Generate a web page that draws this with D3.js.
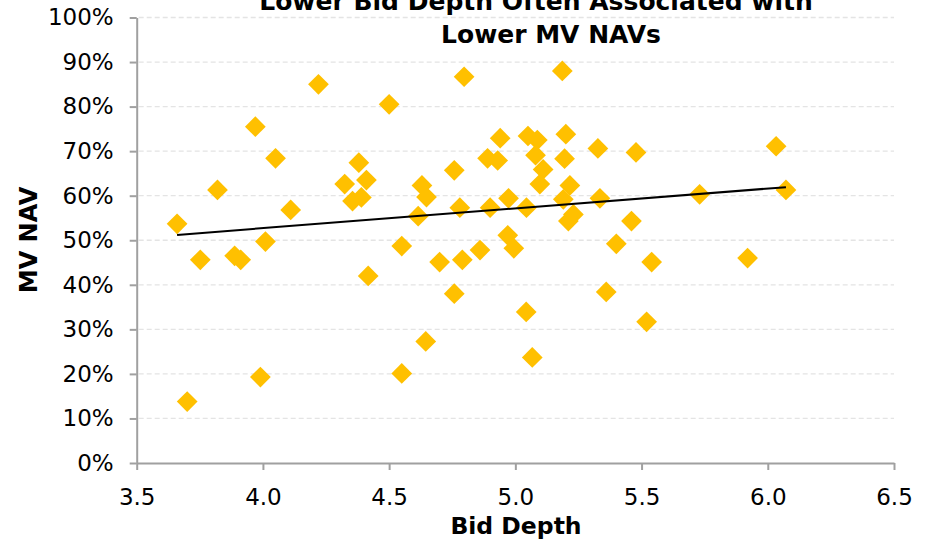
<!DOCTYPE html>
<html>
<head>
<meta charset="utf-8">
<script src="https://cdn.jsdelivr.net/npm/d3@7"></script>
<style>
  body { margin: 0; background: #fff; }
  svg { display: block; }
  text { font-family: Verdana, "DejaVu Sans", sans-serif; fill: #000; }
</style>
</head>
<body>
<svg id="chart" width="934" height="539"></svg>
<script>
// Bid depth (x) against market-value NAV in percent (y)
const bidDepth = [
  3.66, 3.70, 3.752, 3.82, 3.888, 3.912, 3.97, 3.99, 4.01, 4.05,
  4.11, 4.22, 4.324, 4.355, 4.38, 4.39, 4.41, 4.417, 4.50, 4.55,
  4.55, 4.615, 4.63, 4.648, 4.645, 4.70, 4.758, 4.758, 4.78, 4.79,
  4.797, 4.86, 4.89, 4.90, 4.93, 4.94, 4.973, 4.97, 4.994, 5.043,
  5.044, 5.05, 5.067, 5.087, 5.08, 5.11, 5.097, 5.186, 5.20, 5.195,
  5.19, 5.216, 5.23, 5.21, 5.327, 5.335, 5.36, 5.40, 5.46, 5.478,
  5.52, 5.54, 5.73, 5.92, 6.033, 6.072
];
const mvNav = [
  53.7, 13.8, 45.6, 61.3, 46.5, 45.6, 75.5, 19.3, 49.7, 68.4,
  56.8, 85.0, 62.6, 58.8, 67.4, 59.6, 63.5, 42.0, 80.5, 48.7,
  20.1, 55.4, 62.3, 59.7, 27.3, 45.1, 65.7, 38.0, 57.3, 45.6,
  86.7, 47.8, 68.4, 57.3, 67.9, 72.9, 59.4, 51.1, 48.2, 33.9,
  57.3, 73.4, 23.7, 72.5, 69.1, 65.9, 62.6, 88.0, 73.8, 68.3,
  59.2, 62.3, 55.8, 54.3, 70.6, 59.4, 38.4, 49.2, 54.3, 69.7,
  31.7, 45.1, 60.3, 46.0, 71.1, 61.3
];

const xTickValues = [3.5, 4.0, 4.5, 5.0, 5.5, 6.0, 6.5];
const yTickValues = [0, 10, 20, 30, 40, 50, 60, 70, 80, 90, 100];
const titleLines = ["Lower Bid Depth Often Associated with", "Lower MV NAVs"];
const xTitle = "Bid Depth";
const yTitle = "MV NAV";

const svg = d3.select("#chart");

const x = d3.scaleLinear().domain([3.5, 6.5]).range([136.7, 894]);
const y = d3.scaleLinear().domain([0, 100]).range([463, 17.5]);

// dashed horizontal gridlines
svg.append("g")
  .selectAll("line")
  .data(yTickValues.filter(d => d > 0))
  .join("line")
  .attr("x1", x(3.5) + 2).attr("x2", x(6.5))
  .attr("y1", d => y(d)).attr("y2", d => y(d))
  .attr("stroke", "#e4e4e4")
  .attr("stroke-width", 1.3)
  .attr("stroke-dasharray", "5,3");

// axes
const axisColor = "#a0a0a0";
const yAxis = svg.append("g")
  .attr("transform", `translate(${x(3.5)},0)`)
  .call(d3.axisLeft(y).tickValues(yTickValues).tickFormat(d => d + "%")
    .tickSize(7).tickSizeOuter(0).tickPadding(16));
const xAxis = svg.append("g")
  .attr("transform", `translate(0,${y(0)})`)
  .call(d3.axisBottom(x).tickValues(xTickValues).tickFormat(d3.format(".1f"))
    .tickSize(7).tickSizeOuter(0).tickPadding(19));

[xAxis, yAxis].forEach(g => {
  g.select(".domain").attr("stroke", axisColor).attr("stroke-width", 2);
  g.selectAll(".tick line").attr("stroke", axisColor).attr("stroke-width", 2);
  g.selectAll(".tick text")
    .attr("font-family", 'Verdana, "DejaVu Sans", sans-serif')
    .attr("font-size", 23)
    .attr("fill", "#000");
});

// least-squares trend line across the observed bid-depth range
const n = bidDepth.length;
const mx = d3.mean(bidDepth), my = d3.mean(mvNav);
let sxy = 0, sxx = 0;
for (let i = 0; i < n; i++) {
  sxy += (bidDepth[i] - mx) * (mvNav[i] - my);
  sxx += (bidDepth[i] - mx) ** 2;
}
const slope = sxy / sxx, intercept = my - slope * mx;
const [xmin, xmax] = d3.extent(bidDepth);

// diamonds
const diamond = d3.symbol().type(d3.symbolSquare).size(215);
svg.append("g")
  .selectAll("path")
  .data(d3.range(n))
  .join("path")
  .attr("d", diamond)
  .attr("transform", i => `translate(${x(bidDepth[i])},${y(mvNav[i])}) rotate(45)`)
  .attr("fill", "#FFC000");

svg.append("line")
  .attr("x1", x(xmin)).attr("y1", y(intercept + slope * xmin))
  .attr("x2", x(xmax)).attr("y2", y(intercept + slope * xmax))
  .attr("stroke", "#000")
  .attr("stroke-width", 2);

// titles
svg.append("g")
  .selectAll("text")
  .data(titleLines)
  .join("text")
  .attr("x", (d, i) => i === 0 ? 536 : 551)
  .attr("y", (d, i) => 10 + i * 33)
  .attr("text-anchor", "middle")
  .attr("font-size", 25)
  .attr("font-weight", "bold")
  .text(d => d);

svg.append("text")
  .attr("x", 516).attr("y", 534)
  .attr("text-anchor", "middle")
  .attr("font-size", 23.5)
  .attr("font-weight", "bold")
  .text(xTitle);

svg.append("text")
  .attr("transform", "translate(37,240) rotate(-90)")
  .attr("text-anchor", "middle")
  .attr("font-size", 24)
  .attr("font-weight", "bold")
  .text(yTitle);
</script>
</body>
</html>
